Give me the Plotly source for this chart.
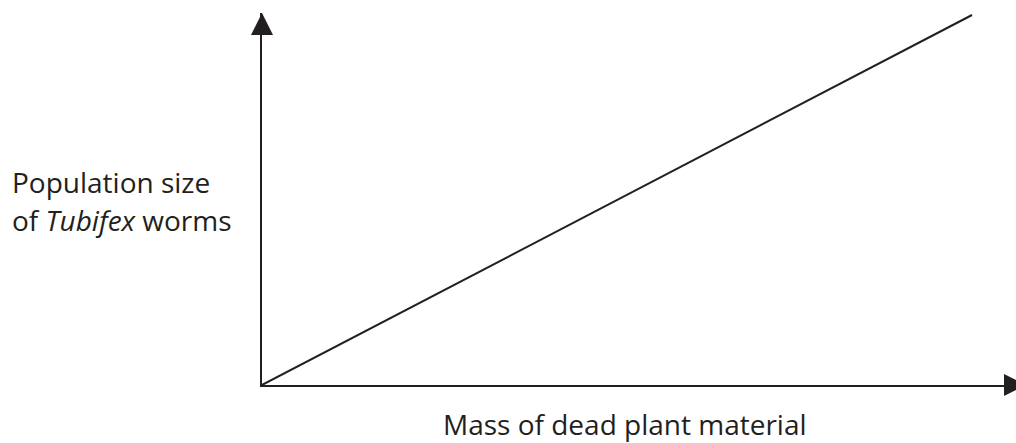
import plotly.graph_objects as go

# Data (conceptual, arbitrary units)
mass = [0, 10]
population = [0, 10]

x_title = "Mass of dead plant material"
y_title_line1 = "Population size"
y_title_line2 = "of <i>Tubifex</i> worms"

INK = "#231f20"
W, H = 1016, 443
L, R, T, B = 262, 4, 13, 58
plot_w = W - L - R
plot_h = H - T - B
bottom = H - B


def px_x(p):
    return (p - L) / plot_w


def px_y(p):
    return (bottom - p) / plot_h


fig = go.Figure()
fig.add_trace(go.Scatter(x=mass, y=population, mode="lines",
                         line=dict(color=INK, width=2), hoverinfo="skip",
                         showlegend=False))

fig.update_layout(
    width=W, height=H,
    margin=dict(l=L, r=R, t=T, b=B),
    paper_bgcolor="white", plot_bgcolor="white",
    font=dict(family="Open Sans", color=INK, size=28),
    xaxis=dict(range=[0, 10.563], showline=True, linecolor=INK, linewidth=2,
               showgrid=False, zeroline=False, showticklabels=False, ticks=""),
    yaxis=dict(range=[0, 10.054], showline=True, linecolor=INK, linewidth=2,
               showgrid=False, zeroline=False, showticklabels=False, ticks=""),
)

# Arrowheads
fig.add_shape(type="path", xref="paper", yref="paper", xsizemode="pixel", ysizemode="pixel",
              xanchor=0, yanchor=1, path="M-11,-22 L11,-22 L0,0 Z",
              fillcolor=INK, line=dict(width=0))
fig.add_shape(type="path", xref="paper", yref="paper", xsizemode="pixel", ysizemode="pixel",
              xanchor=px_x(1026), yanchor=0, path="M-22,-11 L-22,11 L0,0 Z",
              fillcolor=INK, line=dict(width=0))

# Titles
fig.add_annotation(text=y_title_line1, xref="paper", yref="paper",
                   x=px_x(10), y=px_y(182),
                   xanchor="left", yanchor="middle", showarrow=False)
fig.add_annotation(text=y_title_line2, xref="paper", yref="paper",
                   x=px_x(10), y=px_y(220),
                   xanchor="left", yanchor="middle", showarrow=False)
fig.add_annotation(text=x_title, xref="paper", yref="paper",
                   x=px_x(625), y=px_y(424), borderpad=0,
                   xanchor="center", yanchor="middle", showarrow=False)

fig.write_html("out.html", config={"displayModeBar": False},
               post_script="document.body.style.margin='0';document.body.style.overflow='hidden';")
